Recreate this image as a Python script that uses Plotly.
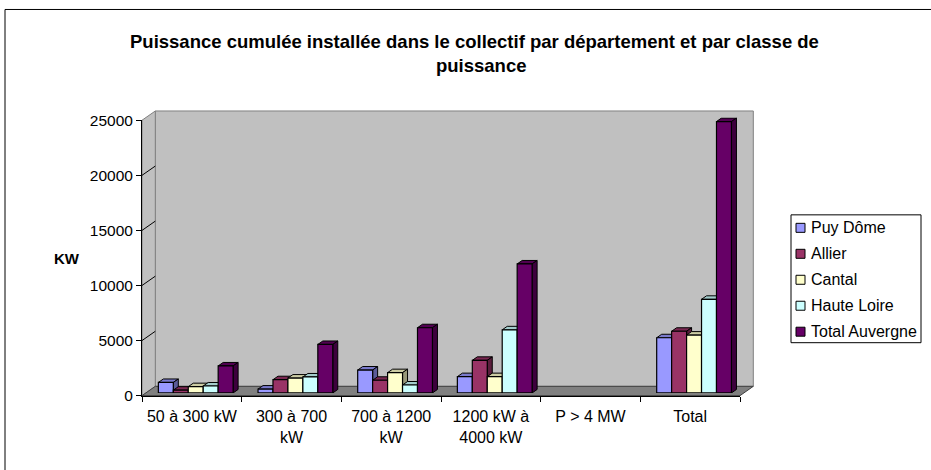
import plotly.graph_objects as go

# ---------------- data ----------------
categories = ["50 à 300 kW", "300 à 700<br>kW", "700 à 1200<br>kW",
              "1200 kW à<br>4000 kW", "P > 4 MW", "Total"]
series_names = ["Puy Dôme", "Allier", "Cantal", "Haute Loire", "Total Auvergne"]
puy_dome = [950, 350, 2080, 1480, 0, 5010]
allier = [250, 1200, 1150, 2960, 0, 5600]
cantal = [570, 1350, 1840, 1480, 0, 5250]
haute_loire = [630, 1450, 720, 5730, 0, 8500]
total_auvergne = [2450, 4400, 5920, 11710, 0, 24640]
y_ticks = [0, 5000, 10000, 15000, 20000, 25000]
y_max = 25000

series_values = [puy_dome, allier, cantal, haute_loire, total_auvergne]
front_colors = ["#9999FF", "#993366", "#FFFFCC", "#CCFFFF", "#660066"]

# ---------------- geometry (pixels, as seen in the target picture) ----------------
W, H = 931, 470
AX_L, AX_R = 142.0, 740.0      # front x axis
AX_B, AX_T = 395.0, 119.3      # front y of 0 and of y_max
WALL_DX, WALL_DY = 13.3, 9.3   # depth of the 3D floor / side wall
BAR_DX, BAR_DY = 3.9, 2.7      # position of the bars' front plane
DEPTH_DX, DEPTH_DY = 5.0, 3.5  # depth of each bar
BARGAP = 0.25
FONT = "Liberation Sans, Arial, sans-serif"

# legend box (pixels)
LEG_L, LEG_R, LEG_T, LEG_B = 791, 921, 214, 342
LEG_Y0, LEG_STEP = 227, 26

# the photographed page shows a small vertical offset/squeeze; compensate for it
V_SCALE, V_OFF = 0.965, 7.9


def fx(x):
    return x / W


def fy(y):
    yd = (y - V_OFF) / V_SCALE
    return 1 - max(yd, 0.5) / H


def xdom(dx):
    return [fx(AX_L + dx), fx(AX_R + dx)]


def ydom(dy):
    return [fy(AX_B - dy), fy(AX_T - dy)]


def shade(hex_color, f):
    r, g, b = (int(hex_color[i:i + 2], 16) for i in (1, 3, 5))
    return f"rgb({int(r * f)},{int(g * f)},{int(b * f)})"


n_cat = len(categories)
x_idx = list(range(n_cat))
x_range = [-0.5, n_cat - 0.5]
n_ser = len(series_values)
group_w = 1 - BARGAP
bw = group_w / n_ser
px_per_unit = (AX_R - AX_L) / n_cat
ddx = DEPTH_DX / px_per_unit
ddy = DEPTH_DY * y_max / (AX_B - AX_T)

fig = go.Figure()

# 3D top and side faces of the bars (drawn beneath the front faces)
for i, (vals, col) in enumerate(zip(series_values, front_colors)):
    off = -group_w / 2 + i * bw
    tx, ty, sx, sy = [], [], [], []
    for k, v in zip(x_idx, vals):
        if v <= 0:
            continue
        left = k + off
        right = left + bw
        tx += [left, left + ddx, right + ddx, right, left, None]
        ty += [v, v + ddy, v + ddy, v, v, None]
        sx += [right, right + ddx, right + ddx, right, right, None]
        sy += [0, ddy, v + ddy, v, 0, None]
    fig.add_trace(go.Scatter(x=tx, y=ty, fill="toself", fillcolor=shade(col, 0.8),
                             mode="lines", line=dict(color="black", width=1),
                             hoverinfo="skip", showlegend=False, xaxis="x2", yaxis="y2"))
    fig.add_trace(go.Scatter(x=sx, y=sy, fill="toself", fillcolor=shade(col, 0.6),
                             mode="lines", line=dict(color="black", width=1),
                             hoverinfo="skip", showlegend=False, xaxis="x2", yaxis="y2"))

# front faces of the bars
for i, (name, vals, col) in enumerate(zip(series_names, series_values, front_colors)):
    off = -group_w / 2 + i * bw
    fig.add_trace(go.Bar(x=x_idx, y=vals, width=bw, offset=off, name=name,
                         showlegend=False,
                         marker=dict(color=col,
                                     line=dict(color="black",
                                               width=[1.2 if v > 0 else 0 for v in vals])),
                         xaxis="x3", yaxis="y3"))

# ---------------- walls / floor ----------------
shapes = []
# outer chart border
shapes.append(dict(type="rect", xref="paper", yref="paper", x0=fx(5), x1=fx(W + 10),
                   y0=-0.05, y1=fy(4), line=dict(color="black", width=1),
                   fillcolor="rgba(0,0,0,0)", layer="below"))
# back wall
shapes.append(dict(type="rect", xref="paper", yref="paper",
                   x0=fx(AX_L + WALL_DX), x1=fx(AX_R + WALL_DX),
                   y0=fy(AX_B - WALL_DY), y1=fy(AX_T - WALL_DY),
                   fillcolor="#C0C0C0", line=dict(color="#808080", width=1), layer="below"))
# side wall
shapes.append(dict(type="path", xref="paper", yref="paper",
                   path=(f"M{fx(AX_L)},{fy(AX_B)} L{fx(AX_L)},{fy(AX_T)} "
                         f"L{fx(AX_L + WALL_DX)},{fy(AX_T - WALL_DY)} "
                         f"L{fx(AX_L + WALL_DX)},{fy(AX_B - WALL_DY)} Z"),
                   fillcolor="#C0C0C0", line=dict(color="#808080", width=1), layer="below"))
# floor
shapes.append(dict(type="path", xref="paper", yref="paper",
                   path=(f"M{fx(AX_L)},{fy(AX_B)} L{fx(AX_R)},{fy(AX_B)} "
                         f"L{fx(AX_R + WALL_DX)},{fy(AX_B - WALL_DY)} "
                         f"L{fx(AX_L + WALL_DX)},{fy(AX_B - WALL_DY)} Z"),
                   fillcolor="#808080", line=dict(color="#404040", width=1), layer="below"))
# diagonal gridlines on the side wall
for v in y_ticks[1:-1]:
    yf = AX_B - (AX_B - AX_T) * v / y_max
    shapes.append(dict(type="line", xref="paper", yref="paper",
                       x0=fx(AX_L), y0=fy(yf), x1=fx(AX_L + WALL_DX), y1=fy(yf - WALL_DY),
                       line=dict(color="black", width=1), layer="below"))

# legend box and swatches
shapes.append(dict(type="rect", xref="paper", yref="paper",
                   x0=fx(LEG_L), x1=fx(LEG_R), y0=fy(LEG_B), y1=fy(LEG_T),
                   fillcolor="white", line=dict(color="black", width=1), layer="below"))
annotations = []
for j, (name, col) in enumerate(zip(series_names, front_colors)):
    yc = LEG_Y0 + j * LEG_STEP
    shapes.append(dict(type="rect", xref="paper", yref="paper",
                       x0=fx(LEG_L + 5), x1=fx(LEG_L + 14), y0=fy(yc + 4.5), y1=fy(yc - 4.5),
                       fillcolor=col, line=dict(color="black", width=1), layer="above"))
    annotations.append(dict(text=name, x=fx(LEG_L + 18), y=fy(yc), xref="paper", yref="paper",
                            showarrow=False, xanchor="left", yanchor="middle",
                            font=dict(family=FONT, size=16, color="black")))

annotations += [
    dict(text="Puissance cumulée installée dans le collectif par département et par classe de",
         x=fx(474), y=fy(40), xref="paper", yref="paper", showarrow=False,
         xanchor="center", yanchor="middle",
         font=dict(family=FONT, size=18.5, color="black", weight="bold")),
    dict(text="puissance", x=fx(481), y=fy(64), xref="paper", yref="paper",
         showarrow=False, xanchor="center", yanchor="middle",
         font=dict(family=FONT, size=18.5, color="black", weight="bold")),
    dict(text="KW", x=fx(67), y=fy(258), xref="paper", yref="paper",
         showarrow=False, xanchor="center", yanchor="middle",
         font=dict(family=FONT, size=15, color="black", weight="bold")),
]

hidden = dict(range=x_range, autorange=False, showgrid=False, zeroline=False,
              showline=False, showticklabels=False, ticks="", fixedrange=True)
hidden_y = dict(range=[0, y_max], autorange=False, showgrid=False, zeroline=False,
                showline=False, showticklabels=False, ticks="", fixedrange=True)

fig.update_layout(
    width=W, height=H, autosize=False,
    margin=dict(l=0, r=0, t=0, b=0),
    paper_bgcolor="white", plot_bgcolor="rgba(0,0,0,0)",
    barmode="overlay", showlegend=False,
    shapes=shapes, annotations=annotations,
    font=dict(family=FONT, color="black", size=15),
    # back wall axes (gridlines only)
    xaxis=dict(hidden, domain=xdom(WALL_DX), anchor="y"),
    yaxis=dict(hidden_y, domain=ydom(WALL_DY), anchor="x", showgrid=True,
               gridcolor="black", gridwidth=1, tickvals=y_ticks[1:-1]),
    # bar faces
    xaxis2=dict(hidden, domain=xdom(BAR_DX), anchor="y2"),
    yaxis2=dict(hidden_y, domain=ydom(BAR_DY), anchor="x2"),
    # bar fronts
    xaxis3=dict(hidden, domain=xdom(BAR_DX), anchor="y3"),
    yaxis3=dict(hidden_y, domain=ydom(BAR_DY), anchor="x3"),
    # front axes with ticks and labels
    xaxis4=dict(domain=xdom(0), anchor="y4", range=x_range, autorange=False,
                tickmode="array", tickvals=x_idx, ticktext=categories,
                ticks="outside", ticklen=6, tickcolor="rgba(0,0,0,0)",
                minor=dict(tickmode="array", tickvals=[k - 0.5 for k in range(n_cat + 1)],
                           ticks="outside", ticklen=5, tickcolor="black", tickwidth=1,
                           showgrid=False),
                showline=True, linecolor="black", linewidth=1, showgrid=False,
                zeroline=False, tickfont=dict(family=FONT, size=16, color="black"),
                fixedrange=True),
    yaxis4=dict(domain=ydom(0), anchor="x4", range=[0, y_max], autorange=False,
                tickmode="array", tickvals=y_ticks, ticktext=[str(t) for t in y_ticks],
                ticks="outside", ticklen=5, tickcolor="black", tickwidth=1,
                showline=True, linecolor="black", linewidth=1, showgrid=False,
                zeroline=False, tickfont=dict(family=FONT, size=15.5, color="black"),
                fixedrange=True),
)

fig.add_trace(go.Scatter(x=[], y=[], xaxis="x4", yaxis="y4", showlegend=False,
                         hoverinfo="skip"))

fig.write_html(
    "out.html",
    config={"displayModeBar": False, "staticPlot": True},
    post_script=("document.documentElement.style.margin='0';"
                 "document.body.style.margin='0';document.body.style.padding='0';"
                 "document.documentElement.style.overflow='hidden';"
                 "document.body.style.overflow='hidden';"),
)
